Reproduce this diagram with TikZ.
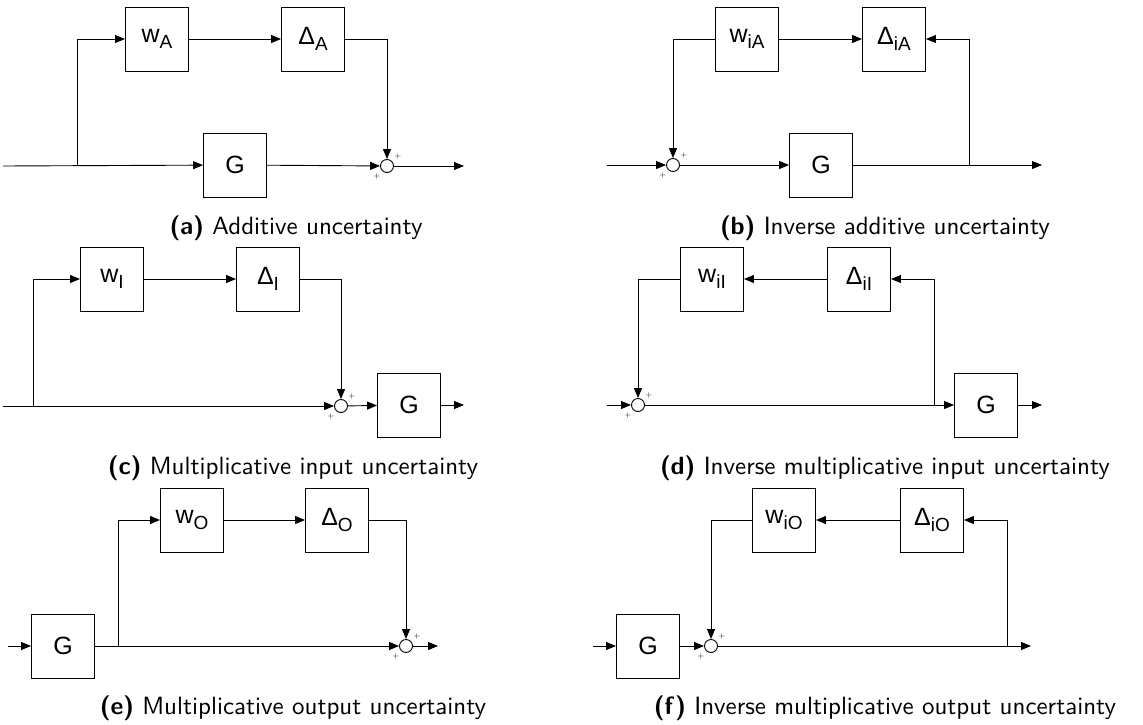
\documentclass[tikz,border=0pt]{standalone}
\usepackage{fontspec}
\newfontfamily\arialf{Liberation Sans}
\usetikzlibrary{arrows.meta}
\newcommand{\mysub}[1]{\raisebox{-6pt}{\fontsize{19}{21}\selectfont #1}}
\newcommand{\mycap}[2]{\scalebox{2.5}{\fontsize{10}{12}\selectfont\textbf{(#1)} #2}}
\tikzset{
  blk/.style={draw, line width=0.9pt, minimum width=63pt, minimum height=64pt, inner sep=0pt, font=\arialf\fontsize{25}{28}\selectfont},
  sumc/.style={draw, circle, line width=0.9pt, minimum size=13pt, inner sep=0pt},
  ln/.style={line width=0.9pt},
  arr/.style={line width=0.9pt, -{Triangle[length=10pt,width=8pt]}},
  pls/.style={inner sep=0pt, font=\sffamily\fontsize{8}{8}\selectfont},
  capt/.style={font=\sffamily, inner sep=0pt}
}
\begin{document}
\begin{tikzpicture}[x=1pt,y=-1pt]
\useasboundingbox (0,0) rectangle (1143,725);
% ---------- (a)
\node[blk] (aw) at (157,39) {w\mysub{A}};
\node[blk] (ad) at (313,39) {Δ\mysub{A}};
\node[blk] (ag) at (235,165) {G};
\node[sumc] (as) at (387,166) {};
\node[pls] (asp1) at (398,156) {+};
\node[pls] (asp2) at (377,176) {+};
\coordinate (ain) at (3,166);
\coordinate (abr) at (77,166);
\coordinate (aout) at (464,166);
\draw[arr] (ain) -- (ag);
\draw[arr] (abr) |- (aw);
\draw[arr] (aw) -- (ad);
\draw[arr] (ad) -| (as);
\draw[arr] (ag) -- (as);
\draw[arr] (as) -- (aout);
\node[capt] (acap) at (296,228) {\mycap{a}{Additive uncertainty}};
% ---------- (b)
\node[blk] (bw) at (747,39) {w\mysub{iA}};
\node[blk] (bd) at (894,39) {Δ\mysub{iA}};
\node[blk] (bg) at (821,165) {G};
\node[sumc] (bs) at (673,165) {};
\node[pls] (bsp1) at (684,155) {+};
\node[pls] (bsp2) at (663,175) {+};
\coordinate (bin) at (607,165);
\coordinate (bbr) at (969,165);
\coordinate (bout) at (1042,165);
\draw[arr] (bin) -- (bs);
\draw[arr] (bw) -| (bs);
\draw[arr] (bs) -- (bg);
\draw[arr] (bg) -- (bout);
\draw[arr] (bbr) |- (bd);
\draw[arr] (bw) -- (bd);
\node[capt] (bcap) at (885,228) {\mycap{b}{Inverse additive uncertainty}};
% ---------- (c)
\node[blk] (cw) at (112,279) {w\mysub{I}};
\node[blk] (cd) at (268,279) {Δ\mysub{I}};
\node[blk] (cg) at (409,405) {G};
\node[sumc] (cs) at (341,406) {};
\node[pls] (csp1) at (352,396) {+};
\node[pls] (csp2) at (331,416) {+};
\coordinate (cin) at (3,406);
\coordinate (cbr) at (33,406);
\coordinate (cout) at (464,405);
\draw[arr] (cin) -- (cs);
\draw[arr] (cbr) |- (cw);
\draw[arr] (cw) -- (cd);
\draw[arr] (cd) -| (cs);
\draw[arr] (cs) -- (cg);
\draw[arr] (cg) -- (cout);
\node[capt] (ccap) at (293,468) {\mycap{c}{Multiplicative input uncertainty}};
% ---------- (d)
\node[blk] (dw) at (712,279) {w\mysub{iI}};
\node[blk] (dd) at (859,279) {Δ\mysub{iI}};
\node[blk] (dg) at (986,405) {G};
\node[sumc] (ds) at (638,405) {};
\node[pls] (dsp1) at (649,395) {+};
\node[pls] (dsp2) at (628,415) {+};
\coordinate (din) at (607,405);
\coordinate (dbr) at (934,405);
\coordinate (dout) at (1042,405);
\draw[arr] (din) -- (ds);
\draw[arr] (ds) -- (dg);
\draw[arr] (dbr) |- (dd);
\draw[arr] (dd) -- (dw);
\draw[arr] (dw) -| (ds);
\draw[arr] (dg) -- (dout);
\node[capt] (dcap) at (885,468) {\mycap{d}{Inverse multiplicative input uncertainty}};
% ---------- (e)
\node[blk] (eg) at (63,646) {G};
\node[blk] (ew) at (192,520) {w\mysub{O}};
\node[blk] (ed) at (337,520) {Δ\mysub{O}};
\node[sumc] (es) at (406,646) {};
\node[pls] (esp1) at (417,636) {+};
\node[pls] (esp2) at (396,656) {+};
\coordinate (ein) at (8,646);
\coordinate (ebr) at (118,646);
\coordinate (eout) at (438,646);
\draw[arr] (ein) -- (eg);
\draw[arr] (eg) -- (es);
\draw[arr] (ebr) |- (ew);
\draw[arr] (ew) -- (ed);
\draw[arr] (ed) -| (es);
\draw[arr] (es) -- (eout);
\node[capt] (ecap) at (293,708) {\mycap{e}{Multiplicative output uncertainty}};
% ---------- (f)
\node[blk] (fg) at (648,646) {G};
\node[blk] (fw) at (784,520) {w\mysub{iO}};
\node[blk] (fd) at (932,520) {Δ\mysub{iO}};
\node[sumc] (fs) at (711,646) {};
\node[pls] (fsp1) at (722,636) {+};
\node[pls] (fsp2) at (701,656) {+};
\coordinate (fin) at (593,646);
\coordinate (fbr) at (1007,646);
\coordinate (fout) at (1031,646);
\draw[arr] (fin) -- (fg);
\draw[arr] (fg) -- (fs);
\draw[arr] (fs) -- (fout);
\draw[arr] (fbr) |- (fd);
\draw[arr] (fd) -- (fw);
\draw[arr] (fw) -| (fs);
\node[capt] (fcap) at (885,708) {\mycap{f}{Inverse multiplicative output uncertainty}};
\end{tikzpicture}
\end{document}
